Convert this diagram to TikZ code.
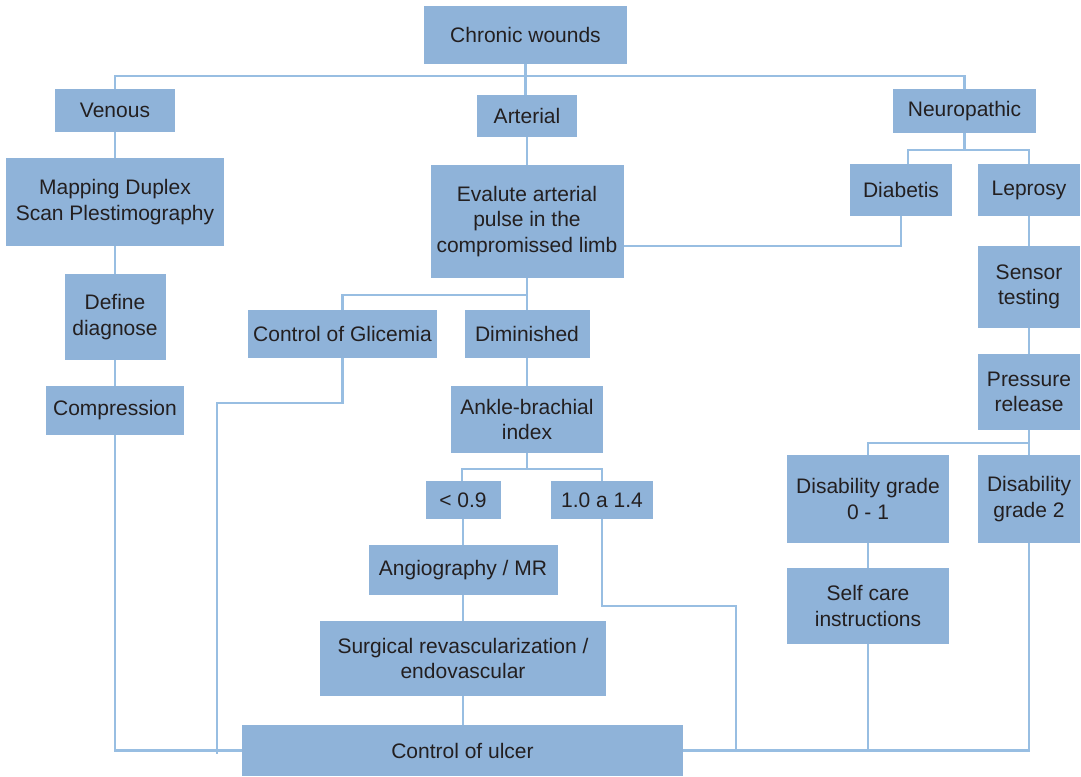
\documentclass[tikz,border=0pt]{standalone}
\usepackage{fontspec}
\setmainfont{Liberation Sans}
\definecolor{boxfill}{RGB}{143,179,217}
\definecolor{linecol}{RGB}{152,190,226}
\definecolor{txt}{RGB}{35,31,32}
\tikzset{
  box/.style={fill=boxfill, inner sep=0pt, align=center, text=txt,
    font=\fontsize{21}{25.5}\selectfont},
  conn/.style={draw=linecol, line width=2.4pt}
}
\newcommand{\bx}[6]{\node[box, minimum width=#4pt, minimum height=#5pt] (#1) at (#2,#3) {#6};}
\begin{document}
\begin{tikzpicture}[x=1pt,y=-1pt]
\useasboundingbox (0,0) rectangle (1081,776);
\bx{cw}{525.5}{35}{203}{58}{Chronic wounds}
\bx{venous}{115}{110.5}{120}{43}{Venous}
\bx{arterial}{527}{116}{100}{42}{Arterial}
\bx{neuro}{964.5}{111}{143}{44}{Neuropathic}
\bx{mapping}{115}{202}{218}{88}{Mapping Duplex\\Scan Plestimography}
\bx{eval}{527}{221.5}{193}{113}{Evalute arterial\\pulse in the\\compromissed limb}
\bx{diab}{901}{190}{102}{52}{Diabetis}
\bx{lep}{1029}{190}{102}{52}{Leprosy}
\bx{define}{115}{317}{101}{86}{Define\\diagnose}
\bx{sensor}{1029}{287}{102}{82}{Sensor\\testing}
\bx{glic}{342.5}{334}{189}{48}{Control of Glicemia}
\bx{dimin}{527}{334}{125}{48}{Diminished}
\bx{compr}{115}{410.5}{138}{49}{Compression}
\bx{ankle}{527}{419.5}{152}{67}{Ankle-brachial\\index}
\bx{press}{1029}{392}{102}{76}{Pressure\\release}
\bx{lt}{463}{500}{75}{38}{< 0.9}
\bx{onefour}{602}{500}{102}{38}{1.0 a 1.4}
\bx{disa}{868}{499}{162}{88}{Disability grade\\0 - 1}
\bx{disb}{1029}{499}{102}{88}{Disability\\grade 2}
\bx{angio}{463}{570}{189}{50}{Angiography / MR}
\bx{self}{868}{606}{162}{76}{Self care\\instructions}
\bx{surg}{463}{658.5}{286}{75}{Surgical revascularization /\\endovascular}
\bx{ulcer}{462.5}{750.5}{441}{51}{Control of ulcer}
% connectors
\draw[conn] (cw.south) -- ++(0,12) coordinate (j0);
\draw[conn] (venous.north) |- (j0) -| (neuro.north);
\draw[conn] (j0) -- (j0 |- arterial.north);
\draw[conn] (venous.south) -- (mapping.north);
\draw[conn] (mapping.south) -- (define.north);
\draw[conn] (define.south) -- (compr.north);
\draw[conn] (compr.south) |- (ulcer.west);
\draw[conn] (arterial.south) -- (eval.north);
\draw[conn] (eval.south) -- ++(0,17) coordinate (j1);
\draw[conn] (glic.north) |- (j1) -- (dimin.north);
\draw[conn] (glic.south) -- ++(0,45) -| ([xshift=-25pt,yshift=-3.5pt]ulcer.west);
\draw[conn] (dimin.south) -- (ankle.north);
\draw[conn] (ankle.south) -- ++(0,16) coordinate (j2);
\draw[conn] ([xshift=-1pt]lt.north) |- (j2) -| (onefour.north);
\draw[conn] (lt.south) -- (angio.north);
\draw[conn] (angio.south) -- (surg.north);
\draw[conn] (surg.south) -- (surg.south |- ulcer.north);
\draw[conn] (onefour.south) -- ++(0,87) -| ([xshift=53pt]ulcer.east);
\draw[conn] (ulcer.east) -| (disb.south);
\draw[conn] (self.south) -- (self.south |- ulcer.east);
\draw[conn] (disa.south) -- (self.north);
\draw[conn] (neuro.south) -- ++(0,17) coordinate (j3);
\draw[conn] ([xshift=7pt]diab.north) |- (j3) -| (lep.north);
\draw[conn] ([yshift=-24.5pt]eval.east) -| (diab.south);
\draw[conn] (lep.south) -- (sensor.north);
\draw[conn] (sensor.south) -- (press.north);
\draw[conn] (press.south) -- ++(0,13) coordinate (j4);
\draw[conn] (disa.north) |- (j4) -- (disb.north);
\end{tikzpicture}
\end{document}
